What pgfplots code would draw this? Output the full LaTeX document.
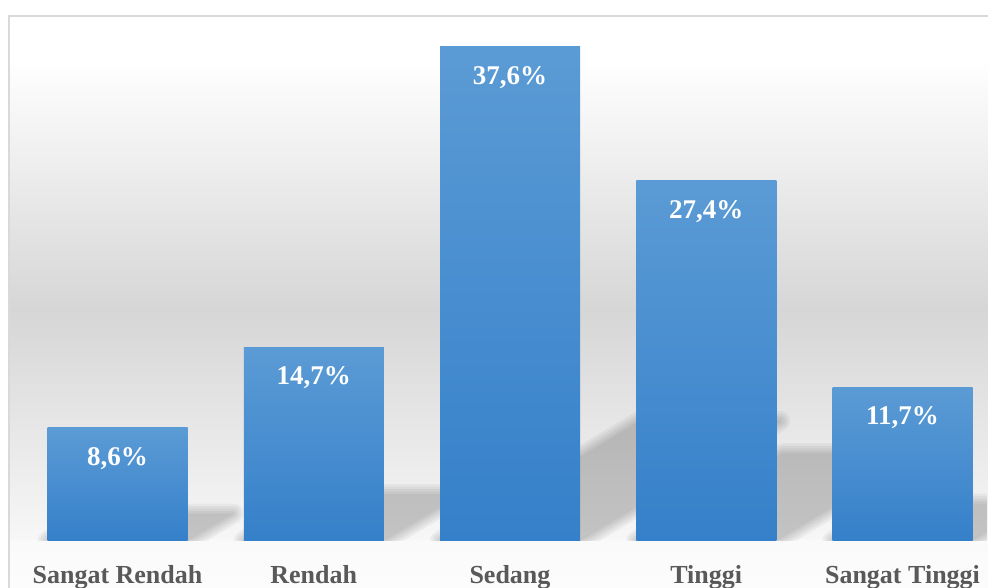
\documentclass[border=0pt]{standalone}
\usepackage{fontspec}
\setmainfont{Liberation Serif}
\usepackage{pgfplots}
\pgfplotsset{compat=1.18}
\definecolor{framec}{HTML}{D9D9D9}
\definecolor{bgdark}{HTML}{D6D6D6}
\definecolor{bglow}{HTML}{F7F7F7}
\definecolor{bgfloor}{HTML}{FAFAFA}
\definecolor{bgbot}{HTML}{FCFCFC}
\definecolor{barTop}{HTML}{5B9BD5}
\definecolor{barBot}{HTML}{3580CA}
\definecolor{labc}{HTML}{595959}
\newcommand\shlayer[2]{%
  \begin{scope}[transparency group, opacity=0.042]
    \fill[black, draw=black, line width=#1, line join=round] #2;
  \end{scope}}
\newcommand\shadowpoly[1]{%
  \shlayer{0.1pt}{#1}\shlayer{5pt}{#1}\shlayer{10pt}{#1}\shlayer{15pt}{#1}\shlayer{20pt}{#1}}
\begin{document}
\begin{tikzpicture}[x=1pt,y=1pt]
\useasboundingbox (0,0) rectangle (988,588);
\fill[white] (0,0) rectangle (988,588);
\shade[top color=white,bottom color=bgdark] (9,278) rectangle (988,528.5);
\shade[top color=bgdark,bottom color=bglow] (9,47) rectangle (988,278.5);
\shade[top color=bgfloor,bottom color=bgbot] (9,0) rectangle (988,47.5);
\draw[framec, line width=1.6pt] (9,0) -- (9,572) -- (990,572);
\begin{axis}[
  anchor=south west, at={(19.375pt,47pt)},
  scale only axis, x=196.25pt, y=13.14pt,
  xmin=-0.5, xmax=4.43, ymin=0, ymax=39,
  axis x line=bottom, axis y line=none,
  axis line style={draw=none},
  tick style={draw=none},
  ytick=\empty,
  xtick={0,1,2,3,4},
  xticklabels={Sangat Rendah, Rendah, Sedang, Tinggi, Sangat Tinggi},
  xticklabel style={font=\fontsize{26}{28}\selectfont\bfseries, text=labc, anchor=base, inner sep=0pt, yshift=-40pt},
  clip=false,
  nodes near coords,
  point meta=explicit symbolic,
  every node near coord/.append style={anchor=north, yshift=-19pt, inner sep=0pt, text=white, font=\fontsize{27}{30}\selectfont\bfseries},
]
\begin{scope}
\clip (-0.6,0) rectangle (4.43,30);
\shadowpoly{(-0.357,0) -- (0.357,0) -- (0.590,2.09) -- (-0.124,2.09) -- cycle}
\shadowpoly{(0.643,0) -- (1.357,0) -- (1.755,3.57) -- (1.041,3.57) -- cycle}
\shadowpoly{(1.643,0) -- (2.357,0) -- (3.376,9.14) -- (2.662,9.14) -- cycle}
\shadowpoly{(2.643,0) -- (3.357,0) -- (4.100,6.66) -- (3.386,6.66) -- cycle}
\shadowpoly{(3.643,0) -- (4.357,0) -- (4.674,2.84) -- (3.960,2.84) -- cycle}
\end{scope}
\addplot[ybar, bar width=140pt, bar shift=0pt, draw=none, top color=barTop, bottom color=barBot] coordinates {(0,8.6) [8,6\%]};
\addplot[ybar, bar width=140pt, bar shift=0pt, draw=none, top color=barTop, bottom color=barBot] coordinates {(1,14.7) [14,7\%]};
\addplot[ybar, bar width=140pt, bar shift=0pt, draw=none, top color=barTop, bottom color=barBot] coordinates {(2,37.6) [37,6\%]};
\addplot[ybar, bar width=140pt, bar shift=0pt, draw=none, top color=barTop, bottom color=barBot] coordinates {(3,27.4) [27,4\%]};
\addplot[ybar, bar width=140pt, bar shift=0pt, draw=none, top color=barTop, bottom color=barBot] coordinates {(4,11.7) [11,7\%]};
\end{axis}
\end{tikzpicture}
\end{document}
